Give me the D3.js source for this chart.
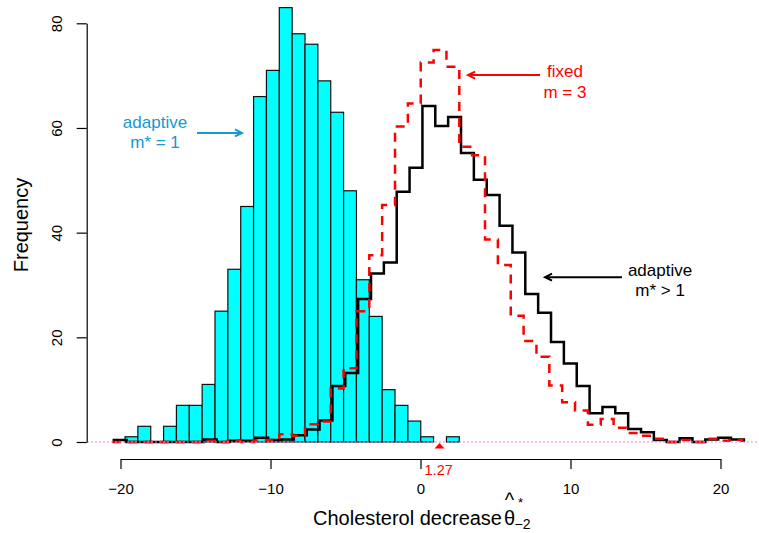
<!DOCTYPE html>
<html>
<head>
<meta charset="utf-8">
<script src="https://cdn.jsdelivr.net/npm/d3@7"></script>
<style>
  body { margin: 0; background: #fff; }
  svg { display: block; font-family: "Liberation Sans", Arial, sans-serif; }
</style>
</head>
<body>
<svg id="chart" width="759" height="533"></svg>
<script>
// bin layout shared by all three histograms
const binWidth = 0.8572;

// adaptive m* = 1 -> cyan bars
const histStart = -19.70;
const histCounts = [1, 3, 0, 3, 7, 7, 11, 25, 33, 45, 66, 71, 83, 78, 76, 69, 63, 48, 31, 24, 10, 7, 4, 1, 0, 1];

// adaptive m* > 1 -> black step line
const adaptStart = -20.444;
const adaptCounts = [0.4, 0, 0, 0, 0, 0, 0, 0.5, 0, 0.25, 0.25, 0.8, 0.4, 0.5, 1.3, 2.4, 4.1, 10.7, 13.2,
  27.3, 32.2, 34.3, 47.8, 52.4, 64.2, 60.4, 62.1, 55.2, 50.1, 47.2, 41.3, 36.2, 28.3, 24.7, 19.1,
  15.0, 10.7, 5.5, 6.7, 5.5, 2.5, 1.85, 0.4, 0, 0.7, 0, 0.5, 0.8, 0.5];

// fixed m = 3 -> red dashed step line
const fixedStart = -20.557;
const fixedCounts = [0, 0, 0, 0, 0, 0, 0, 0.25, 0, 0.3, 0, 0.3, 0.4, 1.5, 1.2, 3.4, 3.9, 10.2, 14.1,
  25, 35.7, 45.3, 60.3, 64.7, 72.5, 74.9, 71.7, 56.4, 54.8, 38.7, 33.8, 24.1, 19.3, 16.3, 10.8,
  7.6, 6.0, 3.3, 4.4, 2.7, 1.7, 1.2, 0.6, 0, 0.4, 0, 0.6, 0.25, 0.4];

const xTicks = [-20, -10, 0, 10, 20];
const yTicks = [0, 20, 40, 60, 80];
const markValue = 1.27;

// annotations in data units
const notes = [
  { lines: ['adaptive', 'm* = 1'], x: -17.7, y: [60.0, 56.2], color: '#1399d3', arrow: [-14.9, -11.9, 59.05] },
  { lines: ['fixed', 'm = 3'], x: 9.63, y: [69.8, 65.7], color: '#ff0000', arrow: [7.97, 3.17, 70.1] },
  { lines: ['adaptive', 'm* > 1'], x: 15.97, y: [31.7, 27.9], color: '#000000', arrow: [13.43, 8.3, 31.5] }
];

const svg = d3.select('#chart');

const x = d3.scaleLinear().domain([-20, 20]).range([120.5, 720.5]);
const y = d3.scaleLinear().domain([0, 80]).range([442, 23.3]);

// cyan histogram
svg.append('g')
  .selectAll('rect')
  .data(histCounts)
  .join('rect')
  .attr('x', (d, i) => x(histStart + i * binWidth))
  .attr('width', x(binWidth) - x(0))
  .attr('y', d => y(d))
  .attr('height', d => y(0) - y(d))
  .attr('fill', '#00ffff')
  .attr('stroke', '#111')
  .attr('stroke-width', 1.2);

// step outline from counts
const stepLine = d3.line().curve(d3.curveStepAfter);
function stepPoints(start, counts) {
  const pts = [[x(start), y(0)]];
  counts.forEach((c, i) => pts.push([x(start + i * binWidth), y(c)]));
  pts.push([x(start + counts.length * binWidth), y(0)]);
  return pts;
}

svg.append('path')
  .attr('d', stepLine(stepPoints(adaptStart, adaptCounts)))
  .attr('fill', 'none')
  .attr('stroke', '#000')
  .attr('stroke-width', 2.5);

svg.append('path')
  .attr('d', stepLine(stepPoints(fixedStart, fixedCounts)))
  .attr('fill', 'none')
  .attr('stroke', '#ff0000')
  .attr('stroke-width', 2.5)
  .attr('stroke-dasharray', '9,7');

// dotted zero line
svg.append('line')
  .attr('x1', 87).attr('x2', 759)
  .attr('y1', y(0)).attr('y2', y(0))
  .attr('stroke', '#ee82ee')
  .attr('stroke-width', 1.2)
  .attr('stroke-dasharray', '2,2');

// x axis
const xAxis = svg.append('g')
  .attr('transform', 'translate(0,459)')
  .call(d3.axisBottom(x).tickValues(xTicks).tickSize(10).tickPadding(14).tickSizeOuter(0));
xAxis.attr('font-size', 15).attr('font-family', null);
xAxis.selectAll('path, line').attr('stroke', '#000').attr('stroke-width', 1.2);

// y axis
const yAxis = svg.append('g')
  .attr('transform', 'translate(86.7,0)')
  .call(d3.axisLeft(y).tickValues(yTicks).tickSize(10).tickSizeOuter(0));
yAxis.attr('font-size', 15).attr('font-family', null);
yAxis.selectAll('path, line').attr('stroke', '#000').attr('stroke-width', 1.2);
yAxis.selectAll('text')
  .attr('x', 0).attr('dy', 0)
  .attr('text-anchor', 'middle')
  .attr('transform', 'translate(-24.5,0) rotate(-90)');

// observed value marker
svg.append('path')
  .attr('d', `M${x(markValue) - 5},${y(0) + 6.5}L${x(markValue) + 5},${y(0) + 6.5}L${x(markValue)},${y(0) + 1}Z`)
  .attr('fill', '#ff0000');
svg.append('text')
  .attr('x', x(markValue) - 15)
  .attr('y', 475)
  .attr('font-size', 14.5)
  .attr('fill', '#ff0000')
  .text(markValue.toFixed(2));

// axis titles
svg.append('text')
  .attr('transform', 'translate(28,225) rotate(-90)')
  .attr('text-anchor', 'middle')
  .attr('font-size', 20)
  .text('Frequency');

const title = svg.append('text')
  .attr('x', 313)
  .attr('y', 525)
  .attr('font-size', 20)
  .text('Cholesterol decrease');
const tx = 313 + title.node().getComputedTextLength() + 2;
svg.append('text').attr('x', tx).attr('y', 525).attr('font-size', 20).text('θ');
svg.append('text').attr('x', tx + 5.5).attr('y', 507).attr('font-size', 20)
  .attr('text-anchor', 'middle').text('^');
svg.append('text').attr('x', tx + 14).attr('y', 507).attr('font-size', 13).text('*');
svg.append('text').attr('x', tx + 10.5).attr('y', 529).attr('font-size', 14).text('−2');

// annotations with arrows
const arrowHead = 7;
notes.forEach(n => {
  n.lines.forEach((s, i) => {
    svg.append('text')
      .attr('x', x(n.x))
      .attr('y', y(n.y[i]))
      .attr('text-anchor', 'middle')
      .attr('font-size', 17)
      .attr('fill', n.color)
      .text(s);
  });
  const x1 = x(n.arrow[0]), x2 = x(n.arrow[1]), ay = y(n.arrow[2]);
  const dir = x2 > x1 ? 1 : -1;
  svg.append('path')
    .attr('d', `M${x1},${ay}L${x2},${ay}M${x2 - dir * arrowHead},${ay - 3.5}L${x2},${ay}L${x2 - dir * arrowHead},${ay + 3.5}`)
    .attr('fill', 'none')
    .attr('stroke', n.color)
    .attr('stroke-width', 2);
});
</script>
</body>
</html>
